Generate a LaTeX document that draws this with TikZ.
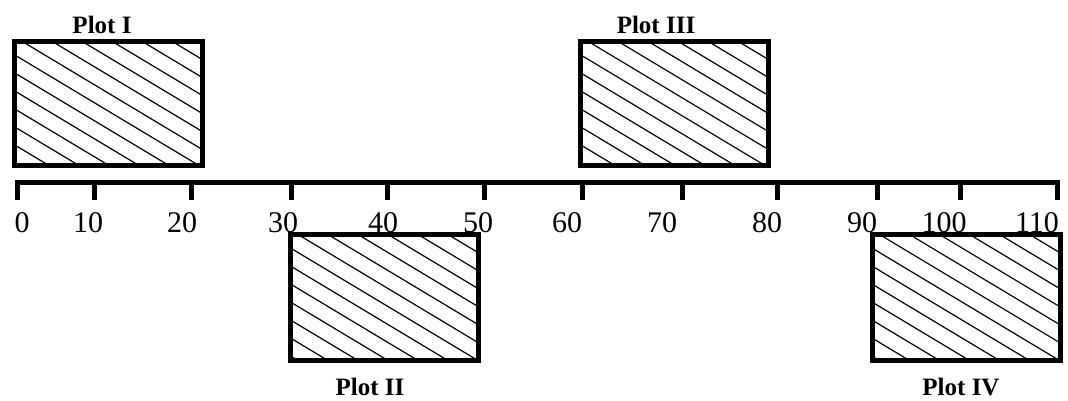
\documentclass[tikz,border=0pt]{standalone}
\usepackage{fontspec}
\setmainfont{Liberation Serif}
\begin{document}
\begin{tikzpicture}[x=1pt,y=-1pt,
  hatchbox/.style={draw, line width=5pt, inner sep=0pt, minimum width=188pt, minimum height=#1,
    path picture={
      \foreach \k [evaluate=\k as \xs using 7.5+30*\k] in {-8,...,8}{
        \draw[line width=1.2pt] ([xshift=\xs pt]path picture bounding box.north west) -- ++(320pt,-192pt);
      }}},
  num/.style={anchor=base, inner sep=0pt, font=\fontsize{30}{32}\selectfont},
  plotlabel/.style={anchor=base, inner sep=0pt, font=\fontsize{25}{27}\selectfont\bfseries},
  axisline/.style={line width=5pt, black},
  shadowline/.style={line width=5pt, black!38},
]
\useasboundingbox (0,0) rectangle (1068,400);

% axis coordinates
\coordinate (a0) at (14.5,182.5);
\coordinate (a1) at (1059.5,182.5);
\foreach \n/\x in {0/17,10/94,20/191,30/291,40/387,50/484,60/582,70/682,80/777,90/877,100/960,110/1057}{
  \coordinate (t\n) at (\x,182.5);
  \coordinate (b\n) at (\x,200);
}
% shadow
\begin{scope}[yshift=-4pt]
  \draw[shadowline] (a0) -- (a1);
  \foreach \n in {0,10,20,30,40,50,60,70,80,90,100,110}{\draw[shadowline] (t\n) -- (b\n);}
\end{scope}
% axis
\draw[axisline] (a0) -- (a1);
\foreach \n in {0,10,20,30,40,50,60,70,80,90,100,110}{\draw[axisline] (t\n) -- (b\n);}

% numbers
\foreach \n/\x in {0/22,10/88,20/182,30/283,40/383,50/478,60/567,70/662,80/767,90/862,100/944,110/1037}{
  \node[num] (l\n) at (\x,232) {\n};
}

% plots
\node[hatchbox=124pt] (p1) at (108,103) {};
\node[hatchbox=124pt] (p3) at (674,103) {};
\node[hatchbox=126pt] (p2) at (384.5,297.5) {};
\node[hatchbox=126pt] (p4) at (966,297.5) {};

\node[plotlabel] (lp1) at (102,33) {Plot I};
\node[plotlabel] (lp3) at (656,33) {Plot III};
\node[plotlabel] (lp2) at (370,395) {Plot II};
\node[plotlabel] (lp4) at (961,395) {Plot IV};
\end{tikzpicture}
\end{document}
